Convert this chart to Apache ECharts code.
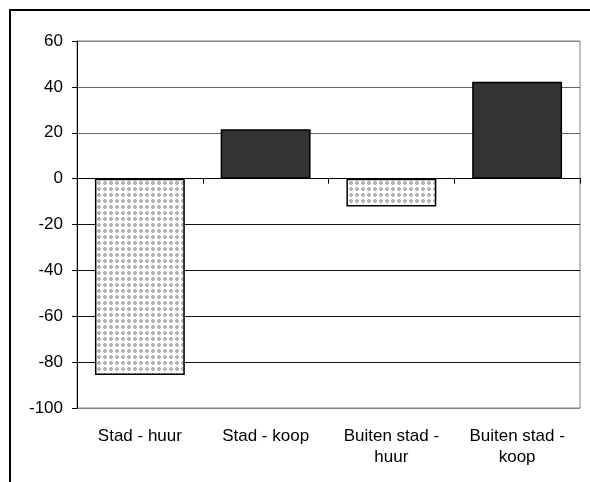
<!DOCTYPE html>
<html>
<head>
<meta charset="utf-8">
<script src="https://cdn.jsdelivr.net/npm/echarts@6/dist/echarts.min.js"></script>
<style>
html,body{margin:0;padding:0;background:#fff;}
#c{width:590px;height:482px;}
</style>
</head>
<body>
<div id="c"></div>
<script>
var categories = ['Stad - huur', 'Stad - koop', 'Buiten stad -\nhuur', 'Buiten stad -\nkoop'];
var values = [-85.6, 21.5, -12.2, 42.2];
var yMin = -100, yMax = 60, yStep = 20;

function dotPattern() {
  var c = document.createElement('canvas');
  c.width = 6; c.height = 6;
  var g = c.getContext('2d');
  g.fillStyle = '#ffffff';
  g.fillRect(0, 0, 6, 6);
  g.fillStyle = '#b4b4b4';
  g.fillRect(1, 2, 4, 2);
  g.fillRect(2, 1, 2, 4);
  return c;
}
var pattern = {image: dotPattern(), repeat: 'repeat'};

var chart = echarts.init(document.getElementById('c'), null, {renderer: 'canvas'});
var font = '"Liberation Sans", Arial, sans-serif';
chart.setOption({
  animation: false,
  backgroundColor: '#fff',
  graphic: [{
    type: 'rect',
    shape: {x: 10, y: 10, width: 620, height: 520},
    style: {fill: null, stroke: '#000', lineWidth: 2},
    silent: true, z: 100
  }],
  grid: {left: 77, top: 41, right: 10, bottom: 74, show: true, borderColor: '#808080', borderWidth: 1, backgroundColor: 'transparent'},
  xAxis: [{
    type: 'category',
    data: categories,
    axisLine: {onZero: true, lineStyle: {color: '#000', width: 1}},
    axisTick: {show: true, length: 5, lineStyle: {color: '#000'}},
    axisLabel: {show: false},
    splitLine: {show: false}
  }, {
    type: 'category',
    data: categories,
    position: 'bottom',
    axisLine: {show: false, onZero: false},
    axisTick: {show: false},
    axisLabel: {show: true, margin: 18, fontSize: 17, lineHeight: 21, color: '#000', fontFamily: font, interval: 0},
    splitLine: {show: false}
  }],
  yAxis: {
    type: 'value',
    min: yMin, max: yMax, interval: yStep,
    axisLine: {show: true, lineStyle: {color: '#000'}},
    axisTick: {show: true, length: 5, lineStyle: {color: '#000'}},
    axisLabel: {margin: 14, fontSize: 17, color: '#000', fontFamily: font},
    splitLine: {show: true, lineStyle: {color: ['#808080', '#111', '#111', '#111', '#111', '#111', '#666', '#666', '#808080'], width: 1}}
  },
  series: [{
    type: 'bar',
    xAxisIndex: 0,
    barWidth: '71.5%',
    data: values.map(function (v) {
      return {
        value: v,
        itemStyle: v < 0
          ? {color: pattern, borderColor: '#000', borderWidth: 1.5}
          : {color: '#333333', borderColor: '#000', borderWidth: 1.5}
      };
    })
  }]
});
</script>
</body>
</html>
